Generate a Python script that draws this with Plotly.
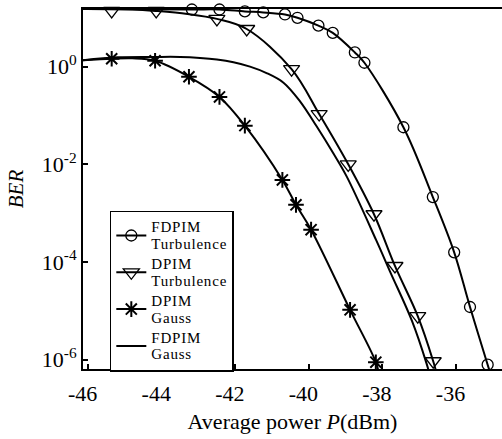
import plotly.graph_objects as go

# ---------------- data ----------------
# Marker samples (x: average power in dBm, y: BER)
fdpim_turb_x = [-43.18, -42.43, -41.74, -41.24, -40.65, -40.31, -39.74, -39.35, -38.75, -38.49,
                -37.43, -36.63, -36.05, -35.62, -35.14]
fdpim_turb_ber = [14.8, 14.8, 13.5, 12.9, 11.7, 10.0, 6.9, 4.9, 1.95, 1.20,
                  5.75e-2, 2.14e-3, 1.58e-4, 1.20e-5, 7.9e-7]

dpim_turb_x = [-45.36, -44.15, -42.50, -41.69, -40.47, -39.72, -38.93, -38.23, -37.66, -37.04, -36.62]
dpim_turb_ber = [13.8, 13.8, 9.5, 5.9, 0.89, 0.107, 1.0e-2, 9.5e-4, 8.3e-5, 7.8e-6, 9.3e-7]

dpim_gauss_x = [-45.36, -44.18, -43.26, -42.43, -41.74, -40.72, -40.35, -39.94, -38.88, -38.18]
dpim_gauss_ber = [1.45, 1.32, 0.62, 0.24, 6.2e-2, 4.8e-3, 1.48e-3, 4.6e-4, 1.05e-5, 8.9e-7]

# Curves
fdpim_turb_curve_x = [-46.2, -43.18, -42.43, -41.74, -41.24, -40.65, -40.31, -39.74, -39.35, -38.75,
                      -38.49, -37.43, -36.63, -36.05, -35.62, -35.14, -35.04]
fdpim_turb_curve_ber = [15.1, 14.8, 14.8, 13.5, 12.9, 11.7, 10.0, 6.9, 4.9, 1.95,
                        1.20, 5.75e-2, 2.14e-3, 1.58e-4, 1.20e-5, 7.9e-7, 4.5e-7]

dpim_turb_curve_x = [-46.2, -44.8, -44.15, -43.3, -42.50, -41.69, -40.47, -39.72, -38.93, -38.23,
                     -37.66, -37.04, -36.62, -36.52]
dpim_turb_curve_ber = [15.1, 14.8, 13.8, 12.0, 9.5, 5.9, 0.89, 0.107, 1.0e-2, 9.5e-4,
                       8.3e-5, 7.8e-6, 9.3e-7, 5.0e-7]

dpim_gauss_curve_x = [-46.14, -45.36, -44.8, -44.18, -43.26, -42.43, -41.74, -40.72, -40.35,
                      -39.94, -38.88, -38.18, -38.08]
dpim_gauss_curve_ber = [1.35, 1.45, 1.48, 1.32, 0.62, 0.24, 6.2e-2, 4.8e-3, 1.48e-3,
                        4.6e-4, 1.05e-5, 8.9e-7, 4.5e-7]

fdpim_gauss_curve_x = [-46.14, -45.2, -44.2, -43.5, -42.96, -42.5, -42.05, -41.6, -41.15, -40.69,
                       -40.24, -39.79, -39.34, -38.97, -38.17, -37.79, -37.20, -36.80, -36.70]
fdpim_gauss_curve_ber = [1.35, 1.55, 1.58, 1.58, 1.51, 1.40, 1.23, 1.0, 0.74, 0.47,
                         0.195, 6.0e-2, 1.7e-2, 5.6e-3, 2.8e-4, 6.3e-5, 6.3e-6, 8.3e-7, 4.5e-7]

series_line1 = ["FDPIM", "DPIM", "DPIM", "FDPIM"]
series_line2 = ["Turbulence", "Turbulence", "Gauss", "Gauss"]

x_tick_vals = [-46, -44, -42, -40, -38, -36]
x_tick_text = ["-46", "-44", "-42", "-40", "-38", "-36"]
y_tick_vals = [1, 1e-2, 1e-4, 1e-6]
y_tick_text = ["10<sup>0</sup>", "10<sup>-2</sup>", "10<sup>-4</sup>", "10<sup>-6</sup>"]

# ---------------- figure ----------------
FONT = "Liberation Serif"
LW = 2
fig = go.Figure()

curves = [
    (fdpim_turb_curve_x, fdpim_turb_curve_ber),
    (dpim_turb_curve_x, dpim_turb_curve_ber),
    (dpim_gauss_curve_x, dpim_gauss_curve_ber),
    (fdpim_gauss_curve_x, fdpim_gauss_curve_ber),
]
for cx, cy in curves:
    fig.add_trace(go.Scatter(x=cx, y=cy, mode="lines", showlegend=False, hoverinfo="skip",
                             line=dict(color="black", width=LW, shape="spline", smoothing=1.0)))

markers = [
    (fdpim_turb_x, fdpim_turb_ber, dict(symbol="circle-open", size=11, color="black",
                                        line=dict(width=1.3, color="black"))),
    (dpim_turb_x, dpim_turb_ber, dict(symbol="triangle-down-open", size=14, color="black",
                                      line=dict(width=1.3, color="black"))),
    (dpim_gauss_x, dpim_gauss_ber, dict(symbol="asterisk-open", size=13, color="black",
                                        line=dict(width=2, color="black"))),
]
for mx, my, mk in markers:
    fig.add_trace(go.Scatter(x=mx, y=my, mode="markers", marker=mk, showlegend=False,
                             cliponaxis=False))

# legend entries
SPAN = '<span style="font-size:15px;letter-spacing:0.8px">{}</span>'
legend_markers = [markers[0][2], markers[1][2], markers[2][2], None]
for l1, l2, mk in zip(series_line1, series_line2, legend_markers):
    name = SPAN.format(l1) + "<br>" + SPAN.format(l2)
    if mk is None:
        fig.add_trace(go.Scatter(x=[None], y=[None], mode="lines", name=name,
                                 line=dict(color="black", width=LW)))
    else:
        fig.add_trace(go.Scatter(x=[None], y=[None], mode="lines+markers", name=name,
                                 line=dict(color="black", width=LW), marker=mk))

fig.update_layout(
    width=502, height=439,
    margin=dict(l=83, r=0, t=9, b=70),
    paper_bgcolor="white", plot_bgcolor="white",
    font=dict(family=FONT, color="black"),
    showlegend=True,
    legend=dict(x=0.064, y=0.44, xanchor="left", yanchor="top",
                bgcolor="white", bordercolor="black", borderwidth=1.5,
                font=dict(family=FONT, size=13, color="black"),
                tracegroupgap=0, itemwidth=30),
)
fig.update_xaxes(
    range=[-46.14, -34.75], tickvals=x_tick_vals,
    ticktext=[t + "\u00a0\u00a0" for t in x_tick_text],
    ticks="inside", ticklen=5, tickwidth=1.5, tickcolor="black",
    showline=True, linewidth=2, linecolor="black", mirror=True,
    showgrid=False, zeroline=False, automargin=False, ticklabelstandoff=4,
    tickfont=dict(family=FONT, size=22, color="black"),
    title=dict(text="Average power <i>P</i>(dBm)", font=dict(family=FONT, size=22, color="black"),
               standoff=8),
)
fig.update_yaxes(
    type="log", range=[-6.19, 1.18], tickvals=y_tick_vals, ticktext=y_tick_text,
    ticks="inside", ticklen=5, tickwidth=1.5, tickcolor="black",
    showline=True, linewidth=2, linecolor="black", mirror=False,
    showgrid=False, zeroline=False, automargin=False,
    tickfont=dict(family=FONT, size=22, color="black"),
    title=dict(text="<i>BER</i>", font=dict(family=FONT, size=21, color="black"), standoff=12),
)

fig.write_html("out.html", config={"displayModeBar": False},
               post_script="document.body.style.margin='0px';")
